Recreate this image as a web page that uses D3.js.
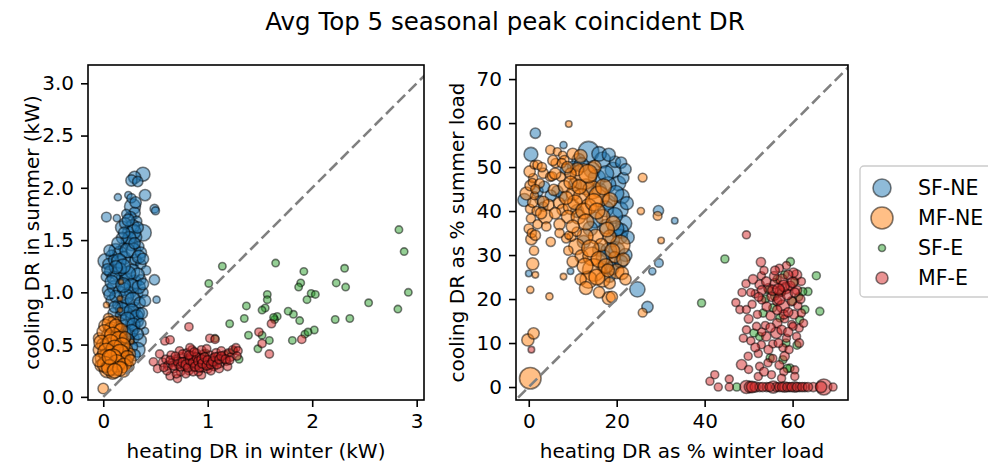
<!DOCTYPE html>
<html>
<head>
<meta charset="utf-8">
<script src="https://cdn.jsdelivr.net/npm/d3@7"></script>
<style>
  body { margin: 0; background: #fff; }
  svg { display: block; font-family: "DejaVu Sans", sans-serif; }
</style>
</head>
<body>
<svg id="chart" width="988" height="463"></svg>
<script>
// ---- Series (point = [heating DR, cooling DR, weight]) ----
const seriesNames = ["SF-NE", "MF-NE", "SF-E", "MF-E"];
const seriesColors = ["#1f77b4", "#ff7f0e", "#2ca02c", "#d62728"];

// Absolute demand response, kW
const sfneKw = [
  [0.38,2.13,4.6],[0.30,2.10,3.5],[0.27,2.07,3],[0.33,2.06,2.5],
  [0.14,1.91,1.2],[0.24,1.93,1.2],[0.40,1.93,3],[0.03,1.72,2.2],[0.13,1.71,1.2],[0.49,1.80,1.8],[0.50,1.78,1.5],
  [0.28,1.82,6],[0.30,1.76,3],[0.26,1.72,3],[0.22,1.75,2],[0.32,1.68,2.5],
  [0.38,1.57,6.5],[0.28,1.63,4.5],[0.24,1.58,3],[0.31,1.53,3.5],[0.22,1.50,2.5],[0.27,1.46,4],[0.34,1.44,2.5],[0.19,1.43,2],
  [0.12,1.40,4.5],[0.16,1.37,5],[0.08,1.35,3],[0.02,1.30,5],[0.05,1.27,3],[0.10,1.31,2.5],[0.20,1.33,4],[0.25,1.26,6.5],[0.31,1.31,3],[0.36,1.27,2.5],[0.41,1.21,2],
  [0.03,1.15,2.5],[0.07,1.20,3.5],[0.13,1.18,4],[0.18,1.14,3],[0.22,1.11,5],[0.30,1.10,4.5],[0.36,1.12,2.5],[0.49,1.12,2.5],
  [0.05,1.02,3.5],[0.10,1.05,4],[0.15,1.00,3.5],[0.20,1.03,4],[0.26,1.00,3],[0.32,0.98,3.5],[0.38,1.00,2.5],[0.51,0.93,1.2],
  [0.08,0.92,3],[0.14,0.88,2.5],[0.19,0.90,3],[0.24,0.88,4],[0.30,0.85,3.5],[0.34,0.80,3],
  [0.10,0.80,3],[0.17,0.78,3],[0.22,0.80,4],[0.28,0.76,4],[0.33,0.72,3],[0.26,0.70,2.5],[0.20,0.68,3],[0.15,0.65,2.5],[0.30,0.65,2.5],
  [0.40,0.63,1.2],[0.25,0.60,3],[0.30,0.56,2],[0.35,0.54,4],[0.33,0.45,5],[0.28,0.48,2.5],[0.22,0.52,2],[0.30,0.40,3],[0.18,0.58,2],
  [0.18,1.62,4],[0.21,1.66,3],[0.29,1.58,5],[0.33,1.62,3],[0.25,1.52,4],[0.18,1.52,3],[0.14,1.47,3.5],[0.29,1.40,5],
  [0.23,1.40,5],[0.36,1.38,3],[0.06,1.40,3],[0.15,1.30,5],[0.28,1.20,5],[0.33,1.17,4],[0.24,1.18,5],[0.16,1.22,4],
  [0.10,1.14,4],[0.27,1.06,5],[0.34,1.05,4],[0.22,0.96,5],[0.12,0.96,3.5],[0.28,0.93,5],[0.35,0.90,3],[0.18,0.84,4],
  [0.27,0.82,5],[0.32,0.77,4],[0.23,0.74,5],[0.29,0.69,4],[0.21,0.62,3],[0.27,0.63,4],[0.33,0.60,3],[0.24,0.55,3],
  [0.19,1.25,5],[0.12,1.24,4],[0.04,1.22,3],[0.08,1.10,4],[0.19,1.07,5],[0.11,0.86,3],[0.06,0.98,3],[0.30,1.47,3],
  [0.20,1.57,3],[0.34,1.34,4],[0.38,1.32,3],[0.38,1.08,3],[0.40,0.92,3],[0.37,0.80,3],[0.36,0.70,2.5],[0.24,1.69,3.5],
  [0.27,1.90,2],[0.31,1.86,3]
];
const mfneKw = [
  [0.00,0.08,2.6],
  [0.17,1.10,0.6],[0.16,0.94,0.7],[0.03,0.88,0.8],[0.16,0.83,0.6],[0.27,0.53,0.6],[0.12,0.63,0.8],[0.14,0.74,0.8],
  [0.05,0.75,2.5],[0.10,0.72,3],[0.02,0.68,4],[0.08,0.64,6],[0.13,0.62,4],[0.17,0.58,3.5],[0.05,0.58,5],[-0.04,0.56,3],
  [0.10,0.55,5],[0.20,0.52,3],[0.00,0.50,4],[0.05,0.48,7.5],[0.14,0.47,5],[0.22,0.45,4],[-0.03,0.45,4.5],[0.08,0.42,6],
  [0.11,0.41,9],[0.25,0.41,3.5],[0.18,0.38,6],[0.00,0.37,6],[0.04,0.35,5],[0.15,0.35,9],[0.22,0.33,4],[0.07,0.32,7],
  [-0.02,0.30,3.5],[0.24,0.29,3],[0.12,0.28,6],[0.04,0.26,6],[0.19,0.25,4],[0.09,0.23,4],[0.02,0.40,3],[0.20,0.44,2],
  [0.12,0.50,3],[0.06,0.66,2],[0.15,0.67,2.5],
  [0.06,0.70,5],[0.12,0.68,4],[0.17,0.64,4],[0.01,0.62,5],[0.09,0.59,6],[0.15,0.55,6],[0.21,0.57,3],[-0.02,0.52,5],
  [0.07,0.52,6],[0.18,0.49,6],[0.11,0.46,7],[0.03,0.43,7],[0.16,0.42,7],[0.23,0.38,4],[0.09,0.37,8],[0.13,0.32,7],
  [0.02,0.31,6],[0.20,0.30,5],[0.06,0.28,6],[0.16,0.27,5],[0.11,0.25,5],[-0.04,0.35,4],[0.26,0.35,3],[0.06,0.38,5]
];
const sfeKw = [
  [2.83,1.60,1.3],[2.88,1.39,1.3],[2.92,1.00,1.3],[2.82,0.84,1.3],[2.31,1.23,1.3],[2.32,1.05,1.3],[2.23,1.09,1.3],
  [2.22,0.74,1.3],[2.36,0.75,1.3],[2.54,0.90,1.3],[1.92,1.20,1.3],[1.89,1.09,1.3],[1.87,1.05,1.3],[1.99,0.99,1.3],
  [2.03,0.98,1.3],[1.95,0.93,1.3],[2.02,0.64,1.3],[1.93,0.60,1.3],[1.88,0.73,1.3],[1.82,0.79,1.3],[1.77,0.82,1.3],
  [1.81,0.54,1.3],[1.65,1.28,1.3],[1.57,0.98,1.3],[1.57,0.93,1.3],[1.55,0.85,1.3],[1.52,0.83,1.3],[1.665,0.77,1.3],
  [1.64,0.74,1.3],[1.59,0.54,1.3],[1.52,0.59,1.3],[1.48,0.46,1.3],[1.39,0.59,1.3],[1.37,0.87,1.3],[1.35,0.75,1.3],
  [1.21,0.70,1.3],[1.14,1.25,1.3],[1.01,1.085,1.3],[1.30,0.36,1.3],[1.07,0.56,1.3],[1.25,0.44,1.3],[1.19,0.41,1.3],
  [1.63,0.76,1.3],[1.96,0.62,1.3],[0.98,0.42,1.3]
];
const mfeKw = [
  [0.82,0.67,1.6],[0.59,0.535,1.6],[0.64,0.545,1.6],[1.02,0.56,1.6],[1.07,0.55,1.6],[1.49,0.62,1.6],[1.52,0.51,1.6],
  [1.59,0.41,1.6],[1.61,0.70,1.6],[1.90,0.55,1.6],[0.48,0.335,1.6],[0.52,0.27,1.6],[0.54,0.41,1.6],[0.64,0.20,1.6],
  [0.71,0.175,1.6],[0.94,0.21,1.6],
  [0.57,0.33,1.8],[0.60,0.36,1.6],[0.62,0.30,1.8],[0.66,0.33,1.6],[0.68,0.27,1.6],[0.70,0.36,1.8],[0.72,0.31,1.6],
  [0.74,0.24,1.6],[0.75,0.38,2],[0.77,0.34,1.6],[0.78,0.29,1.8],[0.80,0.42,1.6],[0.81,0.36,2],[0.82,0.25,1.6],
  [0.84,0.32,1.8],[0.85,0.45,1.6],[0.86,0.39,2],[0.87,0.28,1.6],[0.88,0.35,1.8],[0.89,0.42,1.6],[0.90,0.31,2.2],
  [0.91,0.24,1.6],[0.92,0.38,1.8],[0.93,0.34,1.6],[0.95,0.28,1.8],[0.96,0.41,1.6],[0.97,0.32,2.4],[0.98,0.36,1.6],
  [1.00,0.27,1.8],[1.01,0.30,1.6],[1.02,0.40,1.6],[1.04,0.33,1.8],[1.05,0.37,1.6],[1.06,0.29,1.6],[1.08,0.42,1.8],
  [1.09,0.35,1.6],[1.10,0.39,1.6],[1.12,0.32,1.6],[1.13,0.44,1.6],[1.15,0.37,1.8],[1.16,0.40,1.6],[1.18,0.34,1.6],
  [1.20,0.42,1.6],[1.22,0.38,1.6],[1.24,0.45,1.6],[1.27,0.47,1.6],[1.29,0.44,1.6],[1.28,0.39,1.6],[0.65,0.40,1.6],
  [0.73,0.44,1.6],[0.79,0.22,1.6],[0.83,0.47,1.6],[0.86,0.24,1.6],[0.94,0.45,1.6],[1.03,0.25,1.6],[1.11,0.27,1.6],
  [0.70,0.22,1.6],[0.61,0.25,1.6],[0.58,0.28,1.6],[1.19,0.29,1.6],[0.99,0.46,1.6],[0.76,0.41,1.6],
  [0.67,0.30,1.8],[0.71,0.34,1.8],[0.74,0.29,1.8],[0.76,0.33,2],[0.79,0.31,2],[0.81,0.28,1.8],[0.83,0.35,2],
  [0.84,0.39,1.8],[0.86,0.33,2],[0.88,0.29,2],[0.89,0.38,1.8],[0.91,0.34,2],[0.92,0.28,1.8],[0.94,0.36,2],
  [0.95,0.32,2],[0.97,0.38,1.8],[0.99,0.30,2],[1.00,0.35,2],[1.03,0.31,1.8],[1.05,0.34,2],[1.07,0.38,1.8],
  [1.09,0.31,1.8],[1.11,0.36,1.8],[1.13,0.39,1.8],[1.17,0.36,1.8],[1.21,0.35,1.6],[0.64,0.35,1.6],[0.69,0.39,1.6],
  [0.82,0.40,1.8],[0.87,0.43,1.6]
];

// Demand response as a share of seasonal load, %
const sfnePct = [
  [1.5,57.7,2.5],[0.5,52.9,4.5],[-1.0,42.5,4],[29.5,40.1,2.5],[33.2,37.8,1],[29.6,28.2,1.8],[28.1,26.3,1.2],
  [24.7,22.2,5.5],[27.0,18.2,3],[9.5,26.3,1],[0.0,25.8,1],[7.9,55.0,1.2],[2.5,42.5,2],
  [13.6,53.5,10],[16.8,51.6,6],[19.2,49.3,6],[20.4,46.3,5],[21.2,43.3,5],[20.8,40.3,6],[21.6,37.2,6],[20.8,34.2,5],
  [20.0,31.2,6],[19.6,28.2,4],[18.4,25.1,3],[17.6,36.5,5],[16.0,44.8,5],[14.4,49.3,6],[11.3,51.6,4],[10.1,50.1,3],
  [3.3,41.0,2],[7.7,43.3,2],[19.6,51.2,3],[16.0,31.2,4],[16.8,27.4,3],[22.0,30.0,4],[21.5,47.5,3],[18.0,42.0,5],[19.0,33.5,5],
  [15.5,47.5,7],[18.0,46.0,6],[19.8,44.0,6],[17.5,40.5,6],[19.5,39.0,6],[21.0,35.5,5],[18.2,31.0,6],[19.0,27.0,4],
  [21.0,28.5,4],[15.0,38.0,6],[13.0,45.5,6],[12.0,50.5,5],[17.5,48.5,6],[10.5,46.0,4],[8.5,49.5,3],[6.5,44.5,3],
  [5.0,43.5,3],[2.0,44.5,3],[3.5,45.5,3],[14.0,36.0,5],[17.0,29.5,5],[19.8,36.0,6],[22.3,41.8,4],[22.5,34.0,4],
  [16.0,53.0,5],[18.2,52.8,4],[21.0,51.0,3],[22.0,49.5,3],[12.5,33.0,4],[11.0,40.0,4]
];
const mfnePct = [
  [9.1,59.8,1],[25.9,47.6,1.8],[25.5,40.0,1.2],[29.3,38.9,1.8],[30.1,33.3,1],[25.9,16.9,1.8],[18.2,20.2,4],[18.9,20.5,3],
  [0.35,2.0,11],[-0.2,10.7,3.5],[1.1,12.2,3],[0.6,33.6,3],[0.9,28.0,3.5],[1.5,25.5,1],[0.35,22.1,1.2],[4.7,20.6,1.2],[7.9,25.1,1],
  [0.0,36.0,2],[0.5,38.3,2],[0.3,40.5,2],[0.9,42.0,2.5],[-0.5,44.0,4],[0.3,45.8,2.5],[1.0,47.5,2],[0.2,49.0,3],[1.2,50.5,1.5],
  [0.7,35.0,2],[1.3,43.5,1.5],[0.8,46.5,1.5],
  [3.8,38.8,5],[4.5,41.4,3],[3.3,42.1,3],[2.5,46.3,2],[3.3,48.6,2.5],[4.9,53.9,2],[6.5,53.5,1.5],[7.7,52.7,1.5],[6.1,50.9,2],
  [8.1,51.6,2],[7.3,47.8,2],[4.9,47.8,2],[5.7,44.8,3],[8.1,45.6,3.5],[10.1,44.0,4.5],[6.9,41.8,3],[7.7,40.3,3],[9.7,41.0,6],
  [8.9,38.7,4],[11.3,38.7,5],
  [12.4,47.8,16],[14.4,44.8,8],[16.0,43.3,10],[12.0,43.3,6],[13.6,41.0,6],[16.8,38.7,5],[19.2,37.2,5],[11.0,49.5,4],
  [9.5,48.5,3],[15.0,50.0,4],
  [20.8,32.3,9],[18.4,34.2,4],[15.2,34.2,5],[12.8,34.2,6],[10.9,31.9,6],[12.0,29.7,4],[14.4,29.7,8],[14.8,26.6,12],
  [13.6,24.4,7],[16.8,24.4,5],[20.0,26.3,5],[18.4,23.6,3],[9.7,34.2,2],[8.5,33.8,2],[10.9,35.3,2],[9.1,34.5,1.5],
  [16.5,32.3,4],[21.2,25.9,4],[19.5,29.5,3],[5.3,47.9,2],[7.5,50.9,2],
  [2.0,50.5,2],[1.5,45.0,2],[2.0,37.0,2],[1.2,31.0,2],[1.8,40.0,2],[3.0,50.0,2],[5.5,51.5,2.5],[6.0,48.5,3],
  [8.8,50.0,3],[10.0,53.0,3],[11.8,52.5,4],[9.5,46.5,4],[11.5,45.5,5],[13.5,48.5,8],[10.5,42.0,5],[12.5,40.0,6],
  [14.8,42.0,7],[15.5,40.0,6],[13.0,37.5,6],[10.0,36.5,4],[7.0,37.0,3],[6.0,39.5,3],[8.5,43.0,4],[17.0,45.5,6],
  [18.5,42.5,5],[17.8,35.8,5],[14.0,31.5,7],[16.0,29.0,6],[12.8,27.5,6],[15.5,25.0,6],[17.5,27.5,5],[19.0,31.0,5],
  [21.5,29.0,4],[18.0,26.5,4],[11.8,24.5,3],[13.0,22.5,4],[10.0,28.5,3],[9.0,31.0,2],[7.0,35.0,2],[4.0,36.5,2],
  [5.0,33.0,2],[16.0,21.5,3],[22.0,24.5,3],[2.8,39.5,3],[1.5,34.5,2.5]
];
const sfePct = [
  [44.6,29.1,1.5],[59.5,28.5,1.5],[65.4,25.3,1.5],[63.5,21.7,1.5],[66.2,17.2,1.5],[39.3,19.1,1.5],[55.9,20.6,1.5],
  [53.3,16.8,1.5],[57.1,15.7,1.5],[61.6,15.3,1.5],[52.5,11.5,1.5],[58.5,10.0,1.5],[57.8,6.2,1.5],[59.4,4.3,1.5],
  [47.3,0.0,1.5],[62.3,21.7,1.5],[62.8,17.6,1.5],[61.4,20.5,1.5],[56.5,24.5,1.5],[58.2,25.5,1.5],[60.5,24.0,1.5],
  [54.5,22.0,1.5],[51.2,12.3,1.5],[54.9,6.6,1.5],[58.8,4.2,1.5],[55.5,18.0,1.5],[60.0,19.5,1.5],[57.5,21.5,1.5],
  [53.8,20.0,1.5],[61.0,9.5,1.5]
];
const mfePct = [
  [49.5,34.6,1.5],[52.8,28.4,2],[52.9,25.3,1.5],[58.6,27.6,1.5],[49.4,23.5,1.5],[60.9,25.5,2.5],[60.2,26.0,2],
  [47.1,19.2,1.5],[48.0,17.6,1.5],[49.5,17.6,1.5],[52.5,23.3,2],[54.5,22.5,2],[56.0,23.5,2.5],[57.5,24.4,3],
  [58.5,22.5,3],[57.2,21.8,2.5],[59.5,23.0,2],[61.0,22.0,2],[62.0,24.0,1.5],[55.2,20.5,2],[56.5,19.5,2],[57.8,18.3,4],
  [59.8,19.5,2],[61.2,18.5,1.5],[60.3,16.5,2],[62.0,16.8,1.5],[54.1,18.3,2],[53.0,19.8,1.5],[51.5,21.2,1.5],
  [50.8,18.8,1.5],[52.0,16.5,1.5],[55.0,16.2,2],[58.2,15.5,1.5],[59.8,14.2,1.5],[61.5,13.4,1.5],[49.5,13.0,1.5],
  [48.8,11.1,1.5],[51.8,13.8,1.5],[50.5,10.5,1.5],[52.9,9.6,1.5],[54.0,11.5,2],[56.3,12.3,3],[58.6,11.1,1.5],
  [60.9,11.5,1.5],[60.1,13.8,1.5],[57.8,8.9,1.5],[58.2,7.0,2],[55.5,9.8,1.5],[52.2,7.6,1.5],[49.9,7.0,1.5],
  [48.4,5.1,2.5],[52.5,4.7,1.5],[54.4,5.5,1.5],[55.2,2.8,1.5],[52.2,2.4,1.5],[60.5,3.9,1.5],[60.5,2.4,1.5],
  [42.3,2.8,1.5],[41.2,1.3,1.5],[45.6,1.8,1.5],[43.1,0.0,1.5],[45.6,0.0,1.5],[49.5,0.0,4],[50.3,0.0,3],[51.5,0.0,2.5],
  [52.5,0.0,2],[54.1,0.0,2],[55.6,0.0,3.5],[56.3,0.0,2],[57.0,0.0,2],[58.2,0.0,2.5],[59.3,0.0,2],[60.5,0.0,2.5],
  [61.6,0.0,2],[62.8,0.0,2],[64.7,0.0,2],[67.1,0.0,6],[69.2,0.0,1.5],[0.6,8.5,1],[53.5,26.5,1.5],[55.8,25.2,2],
  [57.0,27.0,1.5],[59.0,25.5,2],[50.5,21.5,1.5],[53.8,14.0,1.5],[56.5,14.5,2],[59.2,8.5,1.5],[53.0,12.5,1.5],
  [55.5,6.5,1.5],[58.0,3.5,1.5],
  [51.0,24.5,2],[53.0,22.0,2],[54.0,24.0,2],[55.5,22.0,2.5],[57.0,20.0,3],[58.8,21.0,2.5],[60.5,21.5,2],[58.0,16.5,2],
  [56.5,17.5,2],[55.0,13.5,2],[57.5,13.0,2],[59.0,12.5,2],[54.5,8.5,1.8],[56.8,10.0,1.8],[50.0,15.5,1.8],[51.5,9.0,1.8],
  [53.5,3.5,1.8],[57.0,5.0,1.8],[61.5,10.0,1.8],[59.0,17.0,2],[61.8,20.0,1.8],[56.0,26.5,1.8],[58.0,23.0,3],[56.8,22.2,3],
  [60.0,23.8,2.5],[52.3,20.5,1.8],[62.5,14.5,1.5],[48.5,21.5,1.5],[50.0,4.0,1.5],[57.5,2.0,1.5],
  [50.8,0.0,3],[53.2,0.0,2],[54.8,0.0,2],[57.6,0.0,2],[58.8,0.0,2],[59.8,0.0,2],[61.0,0.0,2],[62.2,0.0,2],
  [63.5,0.0,2],[66.5,0.0,3]
];

// Axis ticks and labels
const kwXTicks = [0, 1, 2, 3];
const kwYTicks = [0, 0.5, 1.0, 1.5, 2.0, 2.5, 3.0];
const pctXTicks = [0, 20, 40, 60];
const pctYTicks = [0, 10, 20, 30, 40, 50, 60, 70];
const kwDiagonal = [0, 3.2];
const pctDiagonal = [-5, 75];
const title = "Avg Top 5 seasonal peak coincident DR";

// ---- Drawing ----
const svg = d3.select("#chart");
const radius = d3.scaleSqrt().domain([0, 16]).range([0, 13]);

svg.append("text")
  .attr("x", 505).attr("y", 30)
  .attr("text-anchor", "middle")
  .attr("font-size", 24.5)
  .attr("fill", "#000")
  .text(title);

function drawPanel(cfg) {
  const x = d3.scaleLinear().domain(cfg.xDomain).range([cfg.left, cfg.right]);
  const y = d3.scaleLinear().domain(cfg.yDomain).range([cfg.bottom, cfg.top]);
  const g = svg.append("g");

  const clipId = "clip-" + cfg.id;
  svg.append("defs").append("clipPath").attr("id", clipId)
    .append("rect")
    .attr("x", cfg.left).attr("y", cfg.top)
    .attr("width", cfg.right - cfg.left).attr("height", cfg.bottom - cfg.top);

  const plot = g.append("g").attr("clip-path", `url(#${clipId})`);
  cfg.series.forEach((pts, i) => {
    plot.append("g").selectAll("circle").data(pts).join("circle")
      .attr("cx", d => x(d[0]))
      .attr("cy", d => y(d[1]))
      .attr("r", d => radius(d[2]))
      .attr("fill", seriesColors[i]).attr("fill-opacity", 0.5)
      .attr("stroke", "#000").attr("stroke-opacity", 0.5)
      .attr("stroke-width", 1.6);
  });

  plot.append("line")
    .attr("x1", x(cfg.diagonal[0])).attr("y1", y(cfg.diagonal[0]))
    .attr("x2", x(cfg.diagonal[1])).attr("y2", y(cfg.diagonal[1]))
    .attr("stroke", "#808080").attr("stroke-width", 2.6)
    .attr("stroke-dasharray", "11,5");

  const xAxis = d3.axisBottom(x).tickValues(cfg.xTicks).tickFormat(cfg.xFormat)
    .tickSizeInner(7).tickSizeOuter(0).tickPadding(7);
  const yAxis = d3.axisLeft(y).tickValues(cfg.yTicks).tickFormat(cfg.yFormat)
    .tickSizeInner(7).tickSizeOuter(0).tickPadding(7);

  const gx = g.append("g").attr("transform", `translate(0,${cfg.bottom})`).call(xAxis);
  const gy = g.append("g").attr("transform", `translate(${cfg.left},0)`).call(yAxis);
  [gx, gy].forEach(a => {
    a.select(".domain").remove();
    a.selectAll("line").attr("stroke", "#000").attr("stroke-width", 1.6);
    a.selectAll("text").attr("font-size", 20).attr("fill", "#000")
      .attr("font-family", "DejaVu Sans, sans-serif");
  });

  g.append("rect")
    .attr("x", cfg.left).attr("y", cfg.top)
    .attr("width", cfg.right - cfg.left).attr("height", cfg.bottom - cfg.top)
    .attr("fill", "none").attr("stroke", "#000").attr("stroke-width", 1.6);

  g.append("text")
    .attr("x", (cfg.left + cfg.right) / 2).attr("y", 458)
    .attr("text-anchor", "middle").attr("font-size", 20)
    .text(cfg.xLabel);

  g.append("text")
    .attr("transform", `translate(${cfg.yLabelX},${(cfg.top + cfg.bottom) / 2}) rotate(-90)`)
    .attr("text-anchor", "middle").attr("dy", "0.35em").attr("font-size", 20)
    .text(cfg.yLabel);
}

drawPanel({
  id: "kw", left: 88, right: 424, top: 65, bottom: 400,
  xDomain: [-0.146, 3.07], yDomain: [-0.03, 3.175],
  xTicks: kwXTicks, yTicks: kwYTicks,
  xFormat: d3.format("d"), yFormat: d3.format(".1f"),
  series: [sfneKw, mfneKw, sfeKw, mfeKw],
  diagonal: kwDiagonal,
  xLabel: "heating DR in winter (kW)",
  yLabel: "cooling DR in summer (kW)", yLabelX: 32
});

drawPanel({
  id: "pct", left: 516, right: 848, top: 65, bottom: 400,
  xDomain: [-2.9, 72.6], yDomain: [-2.95, 73.2],
  xTicks: pctXTicks, yTicks: pctYTicks,
  xFormat: d3.format("d"), yFormat: d3.format("d"),
  series: [sfnePct, mfnePct, sfePct, mfePct],
  diagonal: pctDiagonal,
  xLabel: "heating DR as % winter load",
  yLabel: "cooling DR as % summer load", yLabelX: 457
});

// Legend
const legendMarkerR = [9, 11, 3.5, 6];
const legend = svg.append("g");
legend.append("rect")
  .attr("x", 860).attr("y", 166).attr("width", 160).attr("height", 131)
  .attr("rx", 4).attr("fill", "#fff").attr("fill-opacity", 0.8)
  .attr("stroke", "#ccc").attr("stroke-width", 1.4);
seriesNames.forEach((name, i) => {
  const cy = 188 + i * 30;
  legend.append("circle")
    .attr("cx", 882).attr("cy", cy).attr("r", legendMarkerR[i])
    .attr("fill", seriesColors[i]).attr("fill-opacity", 0.5)
    .attr("stroke", "#000").attr("stroke-opacity", 0.5).attr("stroke-width", 1.6);
  legend.append("text")
    .attr("x", 918).attr("y", cy).attr("dy", "0.35em")
    .attr("font-size", 20.5).text(name);
});
</script>
</body>
</html>
